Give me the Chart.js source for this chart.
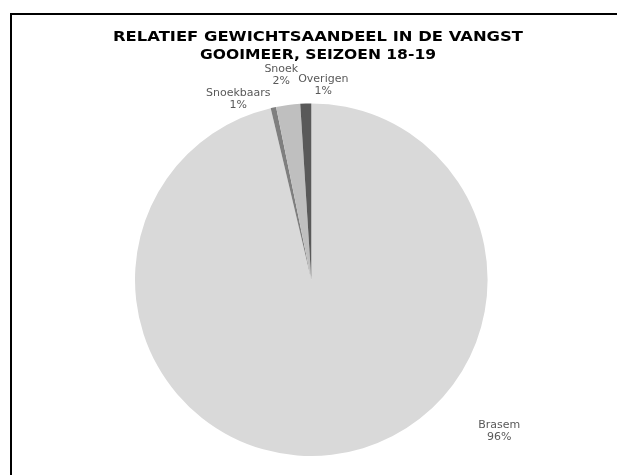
<!DOCTYPE html>
<html>
<head>
<meta charset="utf-8">
<script src="https://cdn.jsdelivr.net/npm/chart.js@4/dist/chart.umd.min.js"></script>
<style>
  html, body { margin: 0; padding: 0; background: #fff; }
  #frame { position: absolute; left: 10px; top: 13px; width: 700px; height: 600px;
           border-left: 2px solid #000; border-top: 2px solid #000; }
  #wrap { position: absolute; left: 0; top: 0; width: 617px; height: 475px; }
</style>
</head>
<body>
<div id="frame"></div>
<div id="wrap"><canvas id="c" width="617" height="475"></canvas></div>
<script>
const titleLines = ["RELATIEF GEWICHTSAANDEEL IN DE VANGST", "GOOIMEER, SEIZOEN 18-19"];
const categories = ["Brasem", "Snoekbaars", "Snoek", "Overigen"];
const values = [96.3, 0.5, 2.2, 1.0];
const percentLabels = ["96%", "1%", "2%", "1%"];
const colors = ["#d9d9d9", "#7f7f7f", "#bfbfbf", "#595959"];

// label placement offsets (px) relative to pie centre
const labelOffsets = [
  { dx: 188, dy: 148 },
  { dx: -73, dy: -184 },
  { dx: -30, dy: -208 },
  { dx: 12,  dy: -198 }
];

function titleText(ctx, text, x, y, sx) {
  ctx.save();
  ctx.translate(x, y);
  ctx.scale(sx, 1);
  ctx.fillText(text, 0, 0);
  ctx.restore();
}

const labelPlugin = {
  id: 'labels',
  afterDraw(chart) {
    const ctx = chart.ctx;
    const meta = chart.getDatasetMeta(0);
    const arc0 = meta.data[0];
    const cx = arc0.x, cy = arc0.y;
    ctx.save();
    // title
    ctx.fillStyle = '#000';
    ctx.font = 'bold 14px "DejaVu Sans"';
    ctx.textAlign = 'center';
    ctx.textBaseline = 'alphabetic';
    titleText(ctx, titleLines[0], 318, 41, 1.17);
    titleText(ctx, titleLines[1], 318, 58.5, 1.11);
    // data labels
    ctx.font = '11px "DejaVu Sans"';
    ctx.fillStyle = '#595959';
    categories.forEach((cat, i) => {
      const o = labelOffsets[i];
      const x = cx + o.dx, y = cy + o.dy;
      ctx.fillText(cat, x, y);
      ctx.fillText(percentLabels[i], x, y + 12.5);
    });
    ctx.restore();
  }
};

new Chart(document.getElementById('c'), {
  type: 'pie',
  data: {
    labels: categories,
    datasets: [{
      data: values,
      backgroundColor: colors,
      borderWidth: 0
    }]
  },
  options: {
    responsive: false,
    animation: false,
    layout: { padding: { top: 103.4, bottom: 19, left: 111.3, right: 105.7 } },
    plugins: {
      legend: { display: false },
      tooltip: { enabled: false },
      title: { display: false }
    }
  },
  plugins: [labelPlugin]
});
</script>
</body>
</html>
